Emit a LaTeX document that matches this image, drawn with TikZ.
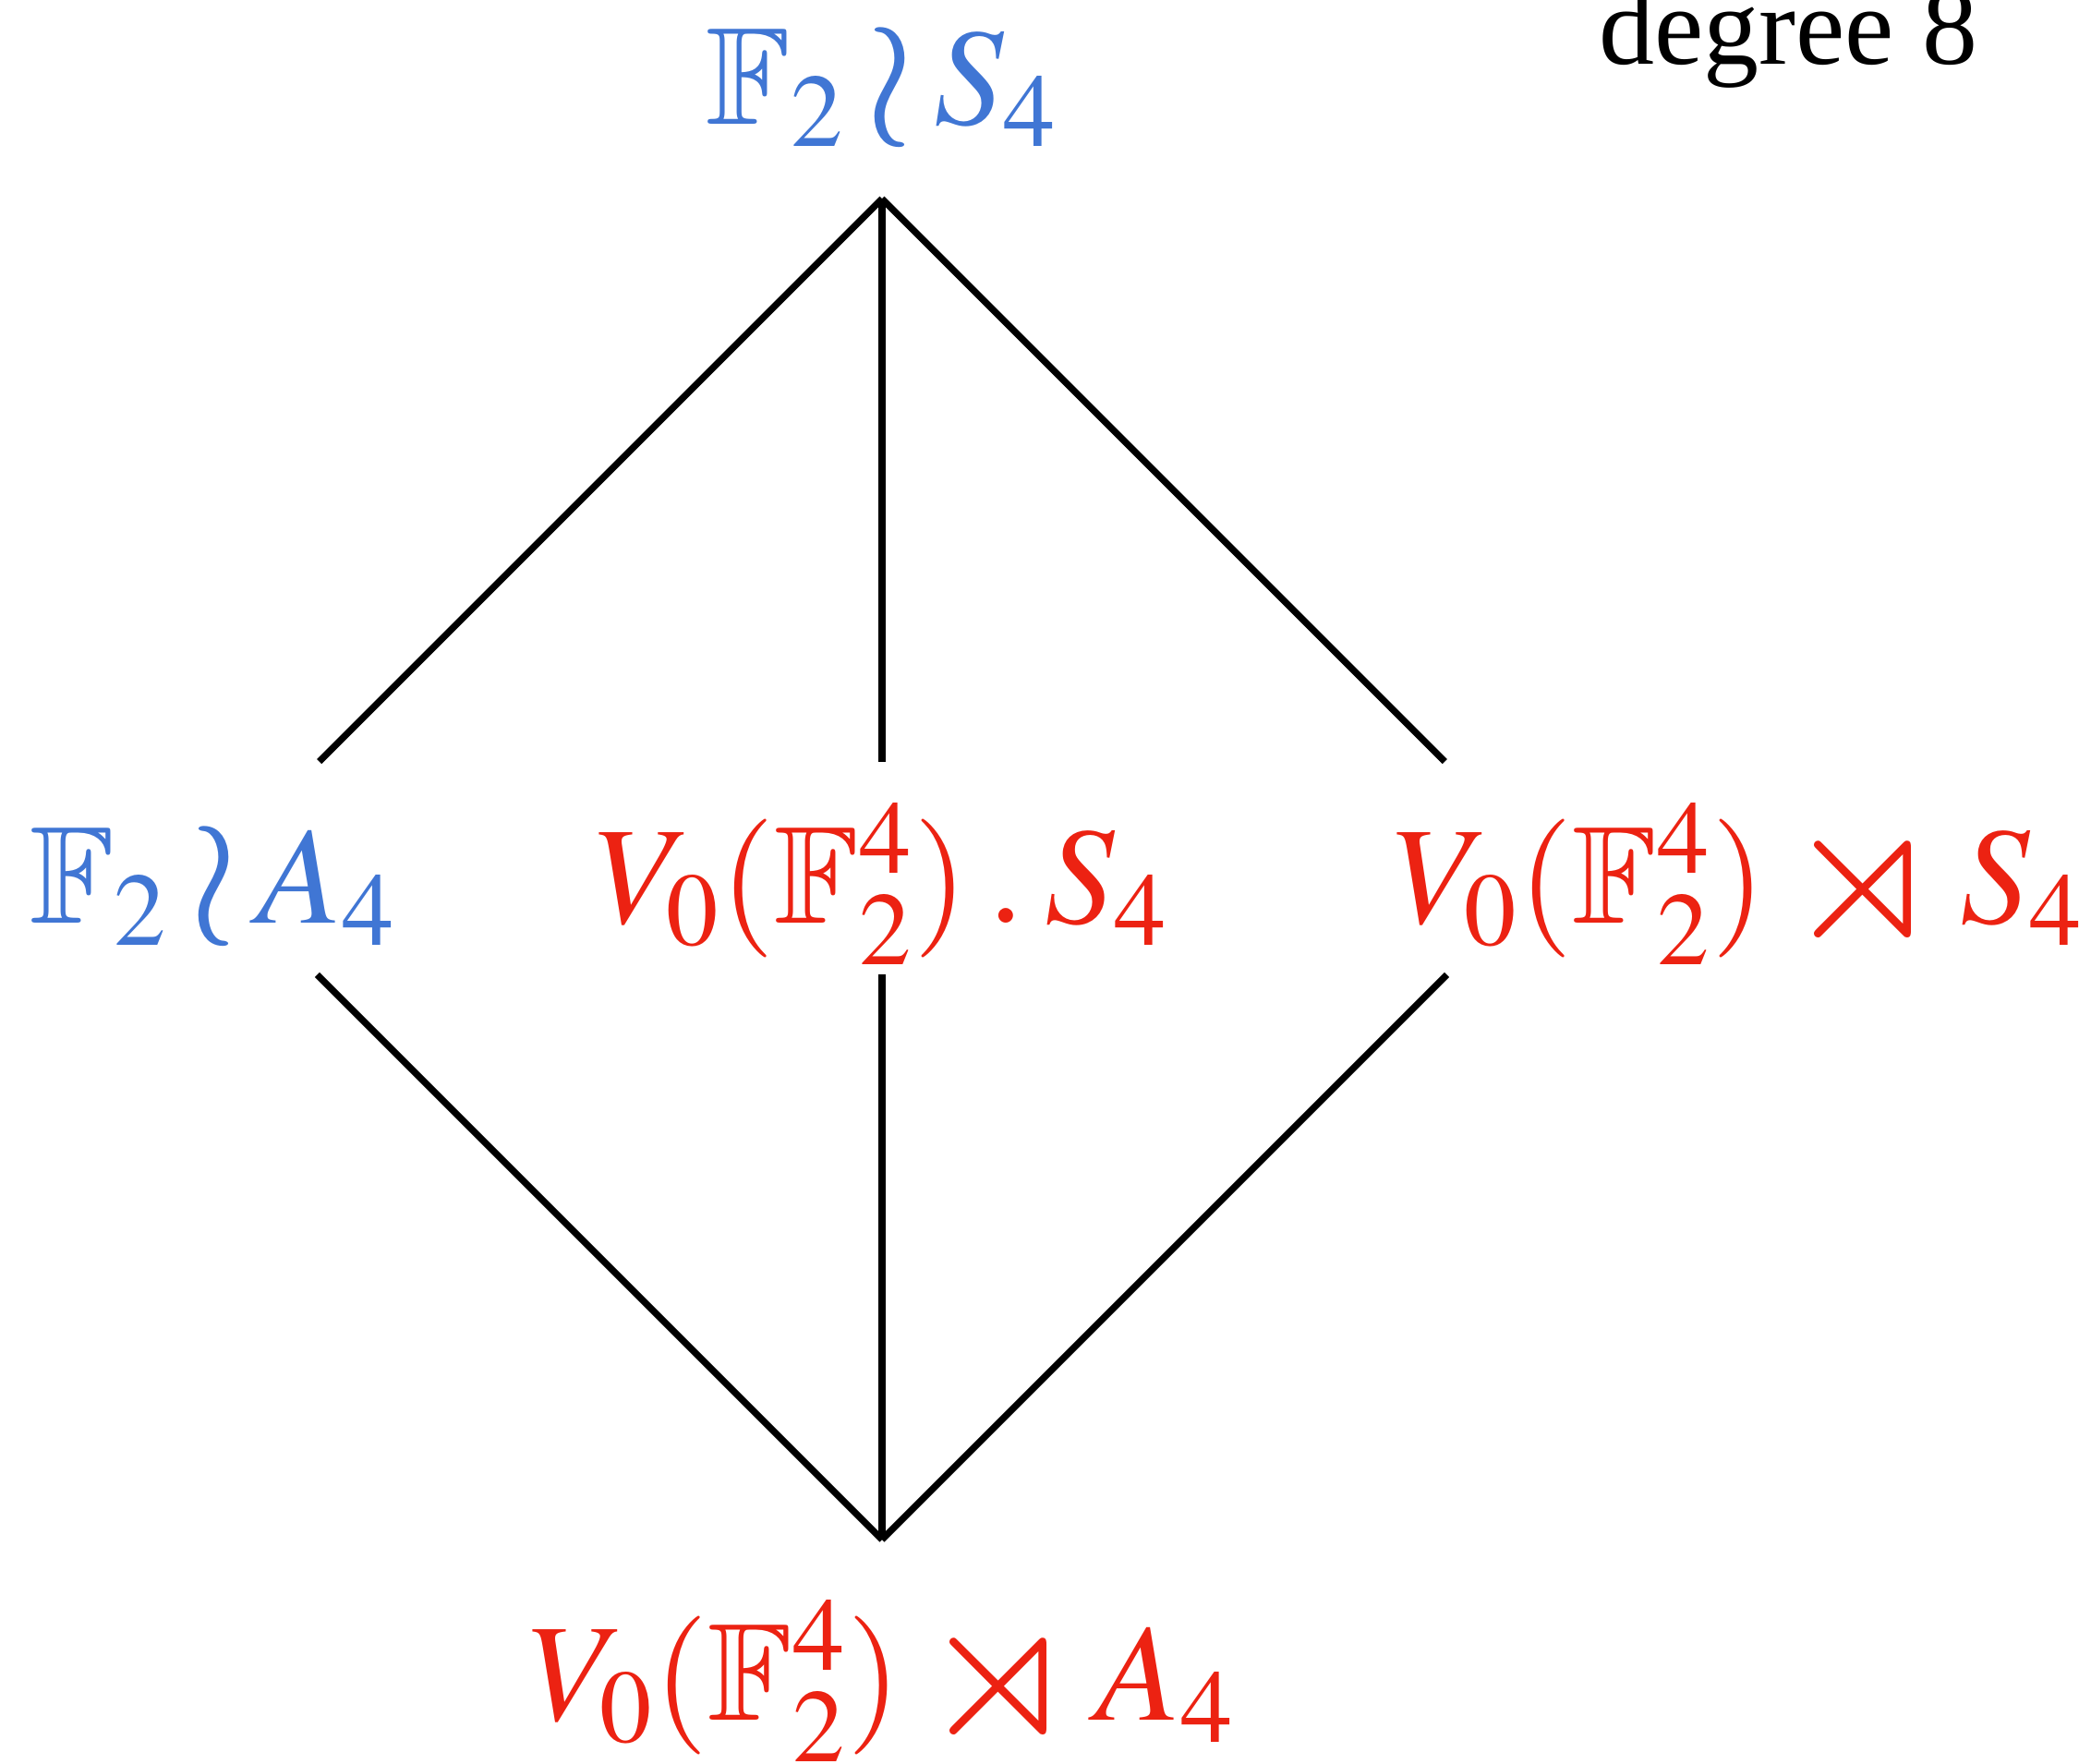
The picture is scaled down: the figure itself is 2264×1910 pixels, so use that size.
\documentclass[tikz,border=0pt]{standalone}
\usepackage{mathptmx}
\usepackage{amsmath}
\usepackage{amssymb}
\usepackage{fontspec}
\setmainfont{Liberation Serif}
\newfontfamily\degfont{Liberation Serif}
\usepackage{tikz}
\usetikzlibrary{calc}
\DeclareMathSizes{24.88}{24.88}{18.66}{14.4}
\definecolor{grpblue}{RGB}{64,118,212}
\definecolor{grpred}{RGB}{236,34,18}
\newcommand{\wrth}{\mathbin{\raisebox{-0.06em}{\scalebox{1.3}{$\wr$}}}}
\newcommand{\semi}{\mathbin{\raisebox{-0.12em}{\scalebox{1.45}{$\rtimes$}}}}

\begin{document}
\begin{tikzpicture}[x=0.16587pt,y=-0.16587pt,
        grp/.style={inner sep=0pt,anchor=base,font=\fontsize{24.88}{30}\selectfont},
        row/.style={grp,text height=28.9pt,text depth=9pt},
        edge/.style={line width=1.2pt}]
        \useasboundingbox (0,0) rectangle (2264,1910);
        \node[anchor=base west,font=\degfont\fontsize{19.9}{24}\selectfont] (deg) at (1710,70) {degree 8};
        \node[grp,grpblue,text depth=13.1pt] (s4) at (955,135) {$\mathbb{F}_2\wrth S_4$};
        \node[row,grpblue] (l) at (231,1000) {$\mathbb{F}_2\wrth A_4$};
        \node[row,grpred] (m) at (955,1000) {$V_0(\mathbb{F}_2^4)\mathbin{.}S_4$};
        \node[row,grpred] (r) at (1883,1000) {$V_0(\mathbb{F}_2^4)\semi S_4$};
        \node[grp,grpred,text height=32.3pt] (a4) at (955,1863) {$V_0(\mathbb{F}_2^4)\semi A_4$};
        % lines up to the top and down to the bottom
        \foreach \n/\a/\f in {l/-45/1.4142, m/0/1, r/45/1.4142}{
            \draw[edge] (s4.south) -- ($(s4.south)!\f!\a:(s4.south |- \n.north)$);
            \draw[edge] (a4.north) -- ($(a4.north)!\f!-\a:(a4.north |- \n.south)$);
        }
\end{tikzpicture}
\end{document}
